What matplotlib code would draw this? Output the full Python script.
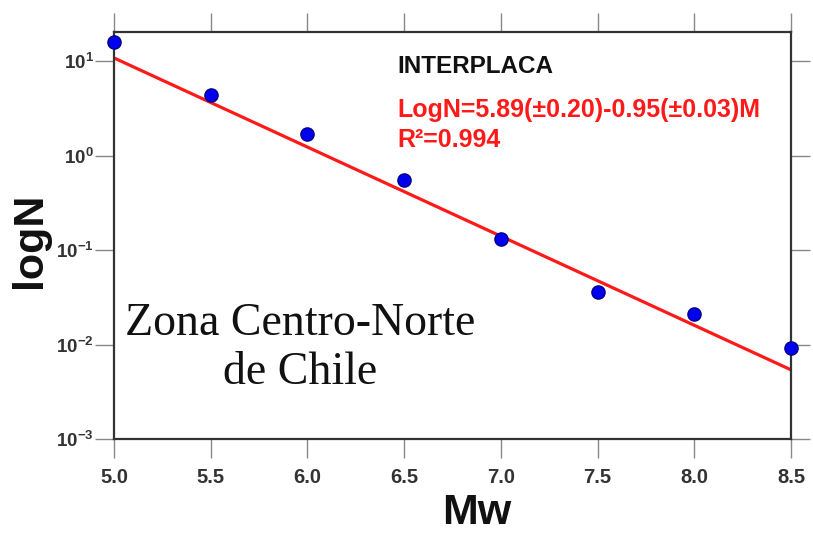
import numpy as np
import matplotlib
matplotlib.use('Agg')
import matplotlib.pyplot as plt

plt.rcParams['font.family'] = 'Liberation Sans'
plt.rcParams['mathtext.fontset'] = 'custom'
plt.rcParams['mathtext.rm'] = 'Liberation Sans:bold'
plt.rcParams['mathtext.it'] = 'Liberation Sans:bold'
plt.rcParams['mathtext.bf'] = 'Liberation Sans:bold'

# magnitudes and observed rates
mw = [5.0, 5.5, 6.0, 6.5, 7.0, 7.5, 8.0, 8.5]
n_obs = [15.9, 4.37, 1.69, 0.55, 0.13, 0.036, 0.021, 0.0092]

# fitted line, end points
fit_mw = [5.0, 8.5]
fit_n = [10.8, 0.0054]

xticks = [5.0, 5.5, 6.0, 6.5, 7.0, 7.5, 8.0, 8.5]
yticks = [1e-3, 1e-2, 1e-1, 1e0, 1e1]
ylabels = ['$10^{-3}$', '$10^{-2}$', '$10^{-1}$', '$10^{0}$', '$10^{1}$']

fig = plt.figure(figsize=(8.13, 5.35), dpi=100)
ax = fig.add_axes([0.1402, 0.1794, 0.8327, 0.7607])

ax.plot(fit_mw, fit_n, color='#ff1a1a', lw=2.3, zorder=2)
ax.plot(mw, n_obs, 'o', color='#0000ee', mec='#00008b', ms=9.5, zorder=3, clip_on=False)

ax.set_yscale('log')
ax.set_xlim(5.0, 8.5)
ax.set_ylim(1e-3, 20.3)
ax.minorticks_off()
ax.set_xticks(xticks)
ax.set_xticklabels(['%.1f' % v for v in xticks])
ax.set_yticks(yticks)
ax.set_yticklabels(ylabels)

for s in ax.spines.values():
    s.set_linewidth(1.6)
    s.set_color('#333333')
ax.tick_params(direction='out', length=13.7, width=1.0, color='#888888',
               top=True, right=True, labeltop=False, labelright=False)
ax.tick_params(axis='x', labelsize=14.5, pad=7, labelcolor='#333333')
ax.tick_params(axis='y', labelsize=13.5, pad=1, labelcolor='#333333')
for lab in ax.get_xticklabels():
    lab.set_fontweight('bold')

ax.text(0.418, 0.899, 'INTERPLACA', transform=ax.transAxes, fontsize=17.5,
        fontweight='bold', color='#111111')
ax.text(0.419, 0.791, 'LogN=5.89(±0.20)-0.95(±0.03)M', transform=ax.transAxes,
        fontsize=18, fontweight='bold', color='#ff1a1a')
ax.text(0.419, 0.717, 'R²=0.994', transform=ax.transAxes,
        fontsize=18, fontweight='bold', color='#ff1a1a')
ax.text(0.275, 0.222, 'Zona Centro-Norte\nde Chile', transform=ax.transAxes,
        fontsize=33, family='Liberation Serif', ha='center', va='center',
        multialignment='center', linespacing=1.2, color='#111111')

fig.text(30/813, 1-240/535, 'logN', rotation=90, ha='center', va='center',
         fontsize=31, fontweight='bold', color='#111111')
fig.text(477/813, 2/535, 'Mw', ha='center', va='bottom',
         fontsize=31, fontweight='bold', color='#111111')

fig.savefig('out.png', dpi=100)
